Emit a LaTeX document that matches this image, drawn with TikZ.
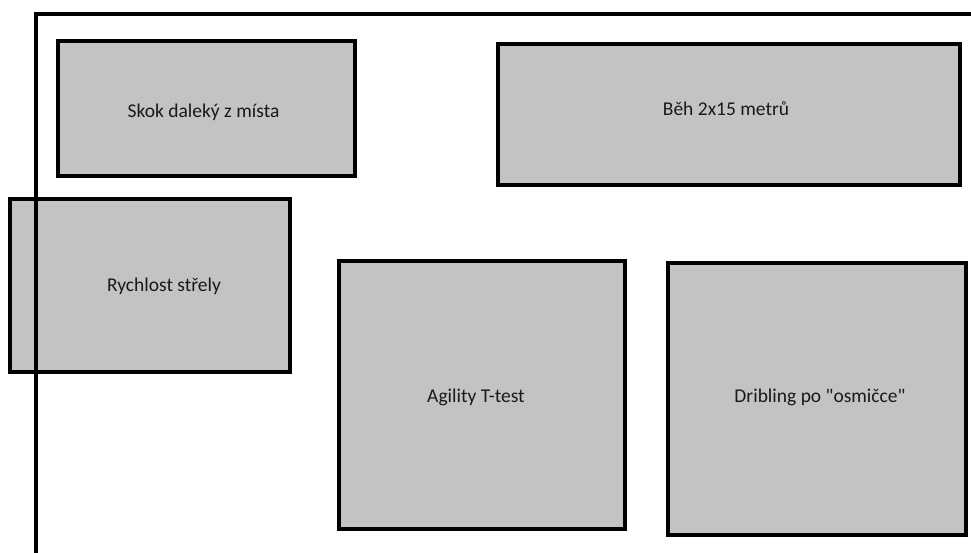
\documentclass[tikz,border=0pt]{standalone}
\usepackage{fontspec}
% plain family without TeX ligature mapping, so " stays a straight quote
\newfontfamily\labelfont{Carlito}
\definecolor{boxgray}{RGB}{195,195,195}
\tikzset{
  station/.style={draw=black, line width=4pt, fill=boxgray, rectangle, inner sep=0pt},
  stationlabel/.style={font=\labelfont\fontsize{19.5}{22}\selectfont, text=black!90, inner sep=0pt},
  fieldline/.style={draw=black, line width=4pt, line join=miter}
}
\begin{document}
\begin{tikzpicture}[x=1pt, y=-1pt]
  \useasboundingbox (0,0) rectangle (971,553);

  % stations
  \node[station, minimum width=297pt, minimum height=135pt] (skok) at (206.5,108.5) {};
  \node[station, minimum width=462pt, minimum height=141pt] (beh) at (729,114.5) {};
  \node[station, minimum width=280pt, minimum height=173pt] (strela) at (150,285.5) {};
  \node[station, minimum width=286pt, minimum height=268pt] (agility) at (482,395) {};
  \node[station, minimum width=298pt, minimum height=272pt] (dribling) at (817,399) {};

  % station names
  \node[stationlabel] (skokT) at (203.5,112) {Skok daleký z místa};
  \node[stationlabel] (behT) at (726,109) {Běh 2x15 metrů};
  \node[stationlabel] (strelaT) at (164,286) {Rychlost střely};
  \node[stationlabel] (agilityT) at (476,397) {Agility T-test};
  \node[stationlabel] (driblingT) at (820,397) {Dribling po "osmičce"};

  % edge of the playing area
  \coordinate (fieldBL) at (36,553);
  \coordinate (fieldTL) at (36,14.5);
  \coordinate (fieldTR) at (971,14.5);
  \draw[fieldline] (fieldBL) -- (fieldTL) -- (fieldTR);
\end{tikzpicture}
\end{document}
